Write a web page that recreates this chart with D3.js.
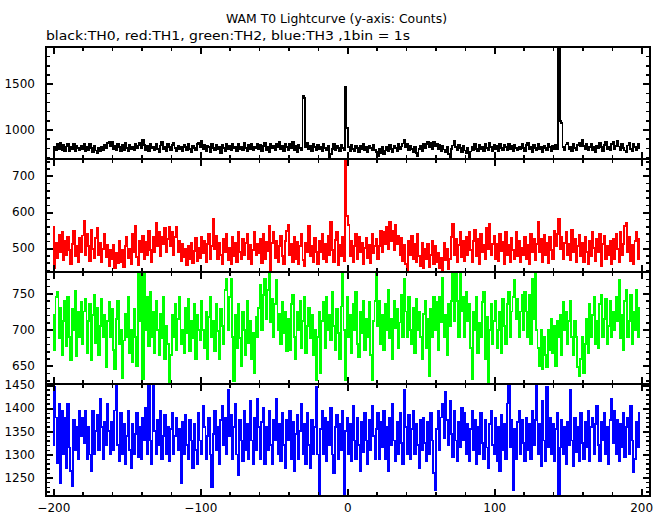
<!DOCTYPE html>
<html><head><meta charset="utf-8">
<script src="https://cdn.jsdelivr.net/npm/d3@7"></script>
<style>body{margin:0;background:#fff;} svg{display:block;}</style>
</head><body>
<svg id="c" width="669" height="515"></svg>
<script>
const timeStart = -200;
const th0 = [720,805,770,845,790,852,775,830,760,815,842,768,810,785,840,762,818,795,770,826,
790,842,765,812,775,838,800,755,822,770,748,795,762,810,780,835,798,852,870,815,
860,790,822,770,845,808,765,828,780,850,795,760,832,788,812,770,845,798,826,855,
800,892,835,778,820,760,842,795,815,770,838,790,752,825,860,785,812,768,840,805,
780,832,850,795,768,826,788,815,760,835,808,772,845,790,758,820,798,770,838,855,
812,872,790,835,768,822,805,752,840,795,770,828,788,815,745,832,800,768,842,790,
826,770,845,795,812,760,838,788,815,772,850,800,765,828,790,842,776,812,795,848,
790,835,765,822,856,780,810,755,842,798,825,770,848,805,868,785,820,760,838,812,
775,840,795,860,770,818,752,835,800,780,1370,1340,812,855,790,825,768,842,806,770,
835,788,812,765,845,798,770,822,700,735,790,842,776,818,795,760,830,802,772,1470,
1020,812,760,832,790,768,826,795,750,818,785,840,772,810,758,825,798,770,835,780,
752,715,790,745,812,728,770,805,760,830,785,752,822,798,768,840,790,815,848,890,
812,845,770,822,790,758,815,740,712,785,826,768,845,800,838,870,812,852,790,862,
818,845,790,835,768,820,782,752,805,730,695,790,825,880,812,770,835,795,758,822,
770,742,795,680,760,812,775,840,790,765,828,785,812,760,838,802,775,850,805,768,
830,785,820,760,842,795,770,835,808,778,845,790,822,765,830,800,772,815,788,848,
795,762,828,850,790,815,755,832,800,770,840,788,815,752,826,795,770,838,808,765,
822,785,835,790,2100,1090,1070,812,770,836,852,785,812,765,845,800,780,832,858,815,
890,822,790,845,770,812,838,780,815,752,826,795,850,805,768,832,860,790,815,772,
845,865,790,822,872,815,780,838,795,770,752,826,850,790,765,838,812,775,842,800];
const th1 = [560,445,515,472,538,490,545,468,520,482,530,495,455,512,548,478,505,462,528,490,
535,575,482,540,505,465,550,498,472,528,555,480,515,462,498,540,475,510,450,495,
470,510,445,488,458,520,462,495,448,505,530,472,498,455,540,490,561,475,452,520,
490,535,470,518,482,548,495,462,530,488,570,505,545,478,532,510,555,490,525,560,
505,545,480,530,560,488,520,465,512,475,498,452,505,470,515,458,492,528,465,500,
472,530,485,520,460,512,540,470,505,580,498,535,470,515,480,455,525,490,540,468,
500,455,530,478,515,462,545,490,470,525,482,515,540,470,508,455,495,545,480,512,
485,525,458,540,470,518,492,562,440,515,545,472,520,460,505,535,478,455,520,548,
565,480,512,462,530,470,518,455,505,540,468,450,515,490,562,478,505,462,528,490,
455,520,490,540,470,512,462,535,480,573,495,460,522,545,452,510,478,530,465,800,
590,565,478,520,462,505,540,470,532,488,515,455,500,528,472,510,458,540,485,505,
525,470,505,548,490,545,512,560,498,573,520,548,495,565,510,535,480,528,465,510,
455,440,520,480,535,470,512,462,540,478,450,515,445,498,470,512,448,480,520,455,
505,460,488,445,472,440,515,468,498,442,470,530,568,480,525,462,508,545,475,520,
465,530,480,545,495,462,520,550,478,525,455,540,488,510,470,555,498,566,480,512,
535,470,512,465,540,492,518,455,545,480,510,462,528,495,470,545,478,520,460,502,
480,530,470,508,455,540,490,525,468,512,573,488,525,462,538,480,515,458,530,495,
470,548,505,540,580,498,530,470,515,545,480,512,468,550,490,525,462,505,538,478,
515,462,530,490,455,520,478,545,500,465,525,488,540,450,512,535,470,505,482,520,
455,525,470,540,498,462,545,480,512,562,570,490,530,465,508,455,520,545,470,525];
const th2 = [720,672,745,752,688,730,665,712,740,678,745,690,658,728,700,754,663,725,690,738,
680,725,742,668,712,735,658,720,748,682,730,665,705,742,690,720,648,712,738,690,
728,672,645,715,740,680,700,633,685,722,690,745,668,700,655,728,690,650,795,712,
790,632,785,700,745,678,752,690,725,668,740,700,665,722,688,745,660,705,680,628,
665,720,690,735,672,715,745,680,700,668,730,695,742,670,712,688,735,660,720,700,
685,740,700,675,725,660,718,745,690,712,670,735,698,660,728,705,680,755,770,700,
745,770,690,629,720,675,735,688,650,725,700,665,740,682,712,660,695,640,718,690,
730,762,700,748,770,715,755,785,710,742,690,735,768,700,722,680,738,695,725,670,
715,672,735,748,690,660,725,700,740,675,712,745,668,705,730,688,720,665,700,630,
690,725,640,712,738,675,745,700,720,685,752,705,672,728,695,660,732,790,700,630,
745,690,720,668,735,700,752,680,662,725,695,740,672,715,690,738,665,630,712,740,
790,705,740,680,720,672,735,700,755,688,715,660,740,702,728,675,710,748,690,770,
725,690,745,700,680,730,668,742,700,725,690,660,722,740,675,715,636,728,690,745,
700,738,672,745,710,772,690,720,665,735,705,740,790,712,785,740,690,790,725,745,
690,752,712,735,675,632,725,700,745,668,710,690,738,752,660,718,628,700,735,680,
712,740,675,700,725,668,742,705,680,735,752,690,725,745,768,715,742,690,725,748,
700,752,725,690,748,680,770,715,780,700,675,650,700,645,690,665,648,700,672,715,
668,705,650,712,690,720,665,738,700,725,680,712,740,690,665,712,690,648,636,660,
690,640,680,715,668,735,690,720,745,680,712,675,735,748,690,715,742,680,705,740,
690,725,700,745,712,768,688,720,672,740,755,690,712,748,680,725,700,755,690,730];
const th3 = [1320,1445,1380,1282,1410,1238,1395,1300,1380,1270,1410,1315,1265,1232,1375,1310,1360,1290,1395,1340,
1380,1325,1395,1290,1360,1300,1265,1395,1300,1350,1385,1310,1420,1360,1290,1370,1320,1410,1350,1300,
1370,1310,1395,1452,1320,1285,1390,1300,1365,1280,1340,1395,1310,1270,1365,1300,1345,1390,1295,1360,
1290,1380,1330,1400,1300,1452,1330,1280,1448,1350,1300,1375,1320,1395,1290,1340,1385,1300,1360,1285,
1355,1390,1300,1340,1380,1310,1355,1238,1370,1300,1385,1320,1290,1375,1330,1270,1365,1310,1280,1390,
1330,1300,1405,1360,1290,1340,1380,1300,1229,1345,1395,1310,1360,1280,1375,1405,1320,1380,1300,1440,
1340,1385,1290,1360,1410,1300,1255,1375,1330,1285,1395,1310,1365,1290,1415,1330,1280,1380,1310,1420,
1360,1290,1370,1400,1280,1360,1310,1395,1320,1280,1375,1330,1420,1300,1365,1285,1390,1320,1270,1375,
1330,1395,1290,1370,1265,1345,1385,1290,1350,1410,1300,1365,1280,1390,1320,1270,1375,1300,1360,1445,
1300,1212,1355,1395,1300,1380,1285,1370,1320,1400,1300,1260,1360,1385,1290,1365,1310,1395,1215,1350,
1380,1300,1365,1285,1405,1330,1290,1380,1320,1265,1370,1305,1390,1330,1280,1375,1310,1405,1340,1290,
1355,1390,1290,1370,1315,1395,1290,1360,1265,1380,1320,1410,1330,1285,1370,1300,1390,1325,1280,1440,
1360,1300,1385,1290,1355,1395,1300,1365,1320,1270,1375,1310,1380,1325,1285,1370,1300,1390,1330,1260,
1222,1355,1395,1310,1380,1410,1335,1435,1375,1320,1415,1345,1295,1395,1330,1285,1370,1315,1400,1330,
1390,1300,1365,1285,1355,1395,1310,1375,1280,1360,1300,1390,1325,1290,1375,1315,1270,1365,1395,1320,
1300,1380,1285,1360,1265,1385,1310,1365,1290,1410,1450,1315,1375,1222,1355,1290,1370,1395,1300,1375,
1325,1285,1380,1310,1365,1290,1395,1320,1375,1448,1300,1365,1275,1415,1330,1285,1445,1315,1380,1300,
1365,1285,1355,1390,1205,1315,1375,1300,1360,1280,1370,1320,1440,1330,1275,1380,1305,1360,1285,1390,
1325,1290,1370,1315,1395,1285,1360,1380,1300,1365,1405,1320,1285,1370,1330,1390,1300,1360,1280,1375,
1420,1325,1395,1300,1375,1285,1365,1315,1390,1295,1360,1380,1300,1405,1330,1262,1290,1370,1315,1390];
const seriesColors = ["#000000","#ff0000","#00ff00","#0000ff"];
const yDomains = [[675,1900],[435,746],[625,780],[1209.5,1452.2]];
const yMajorTicks = [[1000,1500],[500,600,700],[650,700,750],[1250,1300,1350,1400,1450]];
const yMinorStep = [100,20,10,10];
const xMajorTicks = [-200,-100,0,100,200];
const xMinorStep = 20;
const titleText = "WAM T0 Lightcurve (y-axis: Counts)";
const subtitleText = "black:TH0, red:TH1, green:TH2, blue:TH3 ,1bin = 1s";

const svg = d3.select("#c");
const left = 46, right = 650;
const panelTops = [47, 159.3, 271.7, 384];
const panelH = 112.3;
const FONT = "'DejaVu Sans', sans-serif";
const x = d3.scaleLinear().domain([-205, 206]).range([left, right]);
const tvals = d3.range(th0.length).map(i => timeStart + i);
const xMinor = d3.range(-200, 201, xMinorStep).filter(v => !xMajorTicks.includes(v));
const allSeries = [th0, th1, th2, th3];

function styleAxis(g, w) {
  g.select(".domain").remove();
  g.selectAll(".tick line").attr("stroke", "#000").attr("stroke-width", w)
    .attr("shape-rendering", "crispEdges");
  g.attr("font-family", FONT).attr("font-size", 12);
  g.selectAll("text").attr("fill", "#000");
}

allSeries.forEach((vals, k) => {
  const top = panelTops[k], bot = top + panelH;
  const y = d3.scaleLinear().domain(yDomains[k]).range([bot, top]);
  const clipId = "clip" + k;
  svg.append("clipPath").attr("id", clipId).append("rect")
    .attr("x", left).attr("y", top).attr("width", right - left).attr("height", panelH);
  const line = d3.line().x((d, i) => x(tvals[i])).y(d => y(d)).curve(d3.curveStep);
  svg.append("path").datum(vals).attr("clip-path", `url(#${clipId})`)
    .attr("d", line).attr("fill", "none").attr("stroke", seriesColors[k])
    .attr("stroke-width", 1.8).attr("shape-rendering", "crispEdges");

  const [d0, d1] = yDomains[k];
  const st = yMinorStep[k];
  const yMinor = d3.range(Math.ceil(d0 / st) * st, d1 + 0.001, st).filter(v => !yMajorTicks[k].includes(v));

  svg.append("g").attr("transform", `translate(0,${bot})`)
    .call(d3.axisBottom(x).tickValues(xMinor).tickSize(-4).tickFormat(""))
    .call(g => styleAxis(g, 1.5));
  svg.append("g").attr("transform", `translate(0,${top})`)
    .call(d3.axisTop(x).tickValues(xMinor).tickSize(-4).tickFormat(""))
    .call(g => styleAxis(g, 1.5));
  svg.append("g").attr("transform", `translate(0,${bot})`)
    .call(d3.axisBottom(x).tickValues(xMajorTicks).tickSize(-7).tickPadding(7)
      .tickFormat(k === 3 ? d3.format("d") : ""))
    .call(g => styleAxis(g, 2));
  svg.append("g").attr("transform", `translate(0,${top})`)
    .call(d3.axisTop(x).tickValues(xMajorTicks).tickSize(-7).tickFormat(""))
    .call(g => styleAxis(g, 2));

  svg.append("g").attr("transform", `translate(${left},0)`)
    .call(d3.axisLeft(y).tickValues(yMinor).tickSize(-4).tickFormat(""))
    .call(g => styleAxis(g, 1.5));
  svg.append("g").attr("transform", `translate(${right},0)`)
    .call(d3.axisRight(y).tickValues(yMinor).tickSize(-4).tickFormat(""))
    .call(g => styleAxis(g, 1.5));
  svg.append("g").attr("transform", `translate(${left},0)`)
    .call(d3.axisLeft(y).tickValues(yMajorTicks[k]).tickSize(-7).tickPadding(11).tickFormat(d3.format("d")))
    .call(g => styleAxis(g, 2));
  svg.append("g").attr("transform", `translate(${right},0)`)
    .call(d3.axisRight(y).tickValues(yMajorTicks[k]).tickSize(-7).tickFormat(""))
    .call(g => styleAxis(g, 2));

  svg.append("rect").attr("x", left).attr("y", top).attr("width", right - left).attr("height", panelH)
    .attr("fill", "none").attr("stroke", "#000").attr("stroke-width", 2)
    .attr("shape-rendering", "crispEdges");
});

svg.append("text").attr("x", 336.5).attr("y", 22.5).attr("text-anchor", "middle")
  .attr("font-family", FONT).attr("font-size", 13).attr("fill", "#000")
  .attr("textLength", 221).attr("lengthAdjust", "spacingAndGlyphs").text(titleText);
svg.append("text").attr("x", 46).attr("y", 40)
  .attr("font-family", FONT).attr("font-size", 13).attr("fill", "#000")
  .attr("textLength", 364).attr("lengthAdjust", "spacingAndGlyphs").text(subtitleText);
</script>
</body></html>
